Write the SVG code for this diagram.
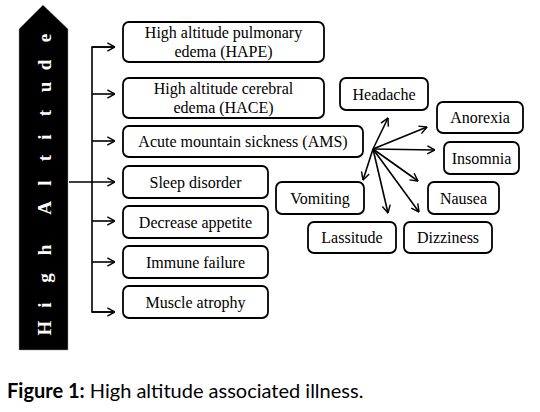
<svg xmlns="http://www.w3.org/2000/svg" width="540" height="412" viewBox="0 0 540 412">
<style>
.box rect{fill:#fff;stroke:#000;stroke-width:1.8}
.box text{font-family:"Liberation Serif","Times New Roman",serif;font-size:16px;fill:#000;text-anchor:middle}
.conn line,.conn path{stroke:#000;stroke-width:1.6;fill:none}
</style>
<defs>
<marker id="ah" viewBox="0 0 10 10" refX="9.5" refY="5" markerWidth="9" markerHeight="11" markerUnits="userSpaceOnUse" orient="auto">
<path d="M1,0.5 L9.5,5 L1,9.5" fill="none" stroke="#000" stroke-width="1.6"/>
</marker>
</defs>
<rect width="540" height="412" fill="#fff"/>
<g id="high-altitude">
<polygon points="19,29 43,5 68,29 68,350 19,350" fill="#000" stroke="#999" stroke-width="1" stroke-dasharray="1,1"/>
<text transform="rotate(-90)" y="51" x="-328 -305 -278 -250 -208 -183 -158 -137 -113 -87 -65 -38" font-family="Liberation Serif,serif" font-weight="bold" font-size="19" fill="#fff" text-anchor="middle">HighAltitude</text>
</g>
<g id="connectors" class="conn">
<line x1="69" y1="182" x2="115" y2="182" marker-end="url(#ah)"/>
<path d="M115,47 H92 V312 H115" />
<line x1="92" y1="47" x2="115" y2="47" marker-end="url(#ah)"/>
<line x1="92" y1="94" x2="115" y2="94" marker-end="url(#ah)"/>
<line x1="92" y1="141" x2="115" y2="141" marker-end="url(#ah)"/>
<line x1="92" y1="221" x2="115" y2="221" marker-end="url(#ah)"/>
<line x1="92" y1="262" x2="115" y2="262" marker-end="url(#ah)"/>
<line x1="92" y1="312" x2="115" y2="312" marker-end="url(#ah)"/>
<line x1="373" y1="149" x2="388" y2="118" marker-end="url(#ah)"/>
<line x1="373" y1="149" x2="427" y2="127" marker-end="url(#ah)"/>
<line x1="373" y1="149" x2="435" y2="150" marker-end="url(#ah)"/>
<line x1="373" y1="149" x2="418" y2="181" marker-end="url(#ah)"/>
<line x1="373" y1="149" x2="419" y2="212" marker-end="url(#ah)"/>
<line x1="373" y1="149" x2="388" y2="213" marker-end="url(#ah)"/>
<line x1="373" y1="149" x2="363" y2="180" marker-end="url(#ah)"/>
</g>
<g id="hape" class="box"><rect x="123" y="22" width="201" height="40" rx="6"/><text x="223.5" y="38">High altitude pulmonary</text><text x="223.5" y="57">edema (HAPE)</text></g>
<g id="hace" class="box"><rect x="123" y="78" width="201" height="40" rx="6"/><text x="223.5" y="94">High altitude cerebral</text><text x="223.5" y="113">edema (HACE)</text></g>
<g id="ams" class="box"><rect x="123" y="126" width="240" height="31" rx="6"/><text x="243" y="147">Acute mountain sickness (AMS)</text></g>
<g id="sleep" class="box"><rect x="123" y="166" width="145" height="32" rx="6"/><text x="195.5" y="187.5">Sleep disorder</text></g>
<g id="appetite" class="box"><rect x="123" y="206" width="145" height="32" rx="6"/><text x="195.5" y="227.5">Decrease appetite</text></g>
<g id="immune" class="box"><rect x="123" y="246" width="145" height="32" rx="6"/><text x="195.5" y="267.5">Immune failure</text></g>
<g id="muscle" class="box"><rect x="123" y="286" width="145" height="32" rx="6"/><text x="195.5" y="307.5">Muscle atrophy</text></g>
<g id="headache" class="box"><rect x="340" y="78" width="88" height="32" rx="6"/><text x="384" y="99.5">Headache</text></g>
<g id="anorexia" class="box"><rect x="437" y="102" width="86" height="31" rx="6"/><text x="480" y="123">Anorexia</text></g>
<g id="insomnia" class="box"><rect x="444" y="142" width="75" height="32" rx="6"/><text x="481.5" y="163.5">Insomnia</text></g>
<g id="nausea" class="box"><rect x="428" y="182" width="71" height="32" rx="6"/><text x="463.5" y="203.5">Nausea</text></g>
<g id="dizziness" class="box"><rect x="404" y="222" width="88" height="31" rx="6"/><text x="448" y="243">Dizziness</text></g>
<g id="lassitude" class="box"><rect x="308" y="222" width="88" height="31" rx="6"/><text x="352" y="243">Lassitude</text></g>
<g id="vomiting" class="box"><rect x="276" y="182" width="88" height="32" rx="6"/><text x="320" y="203.5">Vomiting</text></g>
<text x="7" y="398" font-family="Lato,'Open Sans',sans-serif" font-size="20" fill="#000"><tspan font-weight="bold">Figure 1:</tspan> High altitude associated illness.</text>
</svg>
